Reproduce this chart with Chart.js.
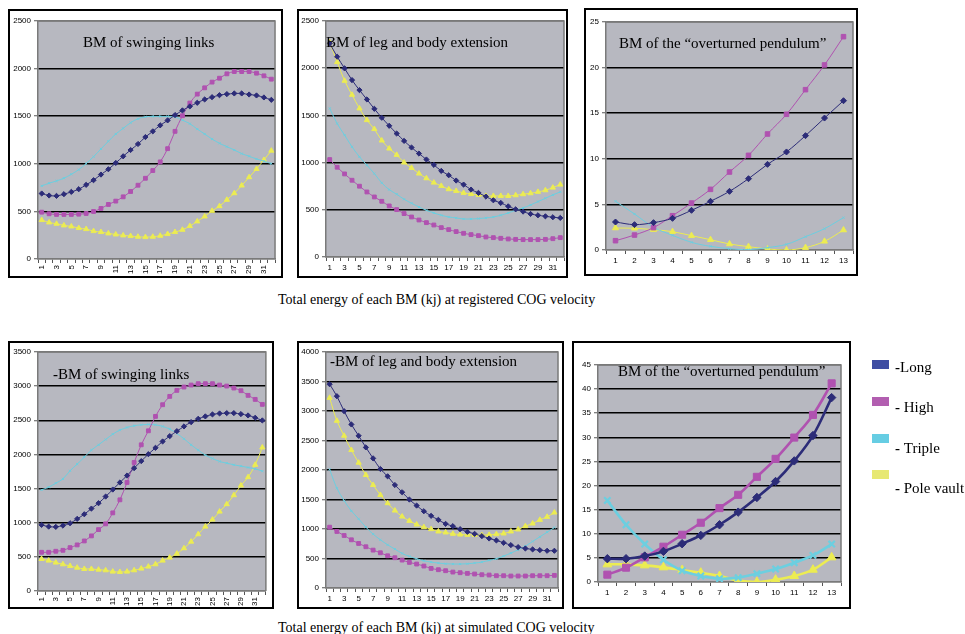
<!DOCTYPE html>
<html><head><meta charset="utf-8">
<script src="https://cdn.jsdelivr.net/npm/chart.js@4"></script>
<style>
html,body{margin:0;padding:0;}
body{width:965px;height:634px;background:#fff;position:relative;overflow:hidden;font-family:"Liberation Serif","Times New Roman",serif;color:#000;}
.frame{position:absolute;border:2px solid #000;box-sizing:border-box;pointer-events:none;}
canvas{position:absolute;}
.t{position:absolute;font-size:15px;white-space:nowrap;line-height:16px;}
.cap{position:absolute;font-size:14px;white-space:nowrap;line-height:16px;}
.sw{position:absolute;width:17px;height:9px;}
.lt{position:absolute;font-size:15px;white-space:nowrap;line-height:16px;}
b.d{font-weight:900;}
</style>
</head><body>
<script>
// ---------- DATA ----------
const cats32 = [1,2,3,4,5,6,7,8,9,10,11,12,13,14,15,16,17,18,19,20,21,22,23,24,25,26,27,28,29,30,31,32];
const cats13 = [1,2,3,4,5,6,7,8,9,10,11,12,13];
const seriesNames = ['Long','High','Triple','Pole vault'];

// registered COG velocity
const regSwingLong   = [688,667,663,681,705,733,779,828,887,943,1009,1079,1145,1208,1281,1341,1404,1456,1512,1561,1603,1641,1676,1700,1721,1732,1739,1739,1728,1718,1697,1672];
const regSwingHigh   = [492,475,468,468,468,471,478,499,531,573,608,653,709,775,848,929,1020,1159,1341,1505,1638,1732,1798,1858,1899,1945,1969,1969,1969,1952,1924,1889];
const regSwingTriple = [768,796,820,849,890,939,1002,1075,1156,1236,1313,1372,1432,1473,1494,1498,1498,1498,1494,1459,1421,1365,1313,1260,1215,1180,1145,1107,1079,1051,1027,1002];
const regSwingPole   = [409,384,370,353,342,325,314,293,283,269,258,248,241,234,230,234,244,262,283,307,346,395,447,506,555,622,691,772,859,946,1041,1138];

const regLegLong   = [2263,2122,1998,1874,1768,1669,1570,1475,1390,1308,1230,1160,1096,1033,976,912,866,810,767,714,679,640,601,573,537,505,481,456,442,431,421,414];
const regLegHigh   = [1032,951,880,813,750,689,636,590,541,502,460,424,392,364,339,311,290,269,251,237,226,212,205,198,191,187,184,184,184,187,194,205];
const regLegTriple = [1574,1414,1291,1167,1061,972,884,785,714,665,612,569,530,495,467,442,424,414,403,403,407,414,424,442,467,495,520,551,587,622,658,690];
const regLegPole   = [2274,2065,1867,1718,1574,1450,1355,1234,1149,1082,1001,944,884,834,788,753,718,700,679,668,658,647,647,647,647,654,665,675,690,707,735,767];

const regPendLong   = [3.07,2.78,3.0,3.47,4.35,5.34,6.43,7.82,9.39,10.75,12.54,14.47,16.37];
const regPendHigh   = [1.02,1.64,2.45,3.76,5.15,6.65,8.55,10.38,12.72,14.88,17.58,20.29,23.39];
const regPendTriple = [5.34,3.95,2.49,1.61,0.84,0.40,0.15,0.04,0.26,0.62,1.46,2.34,3.55];
const regPendPole   = [2.41,2.38,2.23,2.01,1.57,1.13,0.66,0.37,0.11,0.0,0.26,0.95,2.19];

// simulated COG velocity
const simSwingLong   = [968,943,939,958,992,1056,1124,1207,1286,1383,1486,1589,1691,1799,1902,2004,2097,2190,2268,2341,2410,2473,2522,2557,2586,2600,2605,2605,2591,2571,2537,2498];
const simSwingHigh   = [567,567,582,596,635,675,733,807,899,983,1144,1335,1589,1882,2141,2346,2557,2728,2850,2938,2987,3016,3036,3036,3036,3016,3001,2972,2933,2865,2806,2733];
const simSwingTriple = [1481,1520,1579,1642,1760,1858,1960,2063,2141,2219,2297,2356,2395,2420,2434,2439,2434,2410,2371,2307,2229,2141,2063,1990,1941,1897,1872,1848,1828,1809,1789,1755];
const simSwingPole   = [469,445,416,391,367,342,323,323,313,303,284,279,284,303,328,357,391,445,489,547,626,723,831,943,1046,1163,1271,1403,1545,1667,1848,2102];

const simLegLong   = [3454,3251,2997,2772,2580,2383,2197,2017,1893,1746,1623,1499,1397,1301,1223,1155,1087,1048,997,952,918,879,839,806,766,727,693,670,654,642,631,631];
const simLegHigh   = [1031,958,890,817,755,699,642,597,546,513,473,434,406,372,332,310,293,270,259,248,237,225,220,208,208,203,203,203,208,208,208,214];
const simLegTriple = [2011,1690,1482,1307,1172,1031,913,817,732,659,586,535,496,462,439,423,411,406,406,411,423,439,468,496,541,592,648,710,789,868,946,1025];
const simLegPole   = [3223,2834,2580,2338,2124,1915,1746,1577,1437,1313,1211,1138,1076,1031,997,958,941,918,907,901,901,896,901,913,924,958,992,1048,1093,1155,1206,1279];

const simPendLong   = [4.83,4.83,5.38,6.35,7.94,9.66,11.87,14.49,17.53,20.84,25.12,30.37,38.24];
const simPendHigh   = [1.52,2.97,5.11,7.32,9.80,12.29,15.32,18.08,21.81,25.54,29.95,34.65,41.20];
const simPendTriple = [16.91,11.87,7.87,4.62,2.35,1.24,0.69,0.90,1.73,2.69,4.00,5.52,7.87];
const simPendPole   = [3.66,3.66,3.45,3.04,2.48,1.93,1.24,0.28,0.0,0.48,1.24,2.55,5.11];

const panelTitles = ['BM of swinging links','BM of leg and body extension','BM of the \u201coverturned pendulum\u201d'];
const captions = ['Total energy of each BM (kj) at registered COG velocity','Total energy of each BM (kj) at simulated COG velocity'];

// ---------- STYLE ----------
const COLORS = ['#2c2c78','#b052b0','#6ccfe0','#ecec52'];
const LEGEND_COLORS = ['#3f4ea3','#b25eb0','#66cde3','#e7e873'];
const STYLES = ['rectRot','rect','crossRot','triangle'];
const PLOT_BG = '#b7b8c0';

const bgPlugin = {
  id:'plotbg',
  beforeDraw(c){
    const a=c.chartArea, x=c.ctx;
    x.save(); x.fillStyle=PLOT_BG; x.fillRect(a.left,a.top,a.right-a.left,a.bottom-a.top); x.restore();
  },
  beforeDatasetsDraw(c){
    const a=c.chartArea, x=c.ctx;
    x.save(); x.strokeStyle='#7a7a7a'; x.lineWidth=1.5;
    x.beginPath(); x.moveTo(a.left,a.top); x.lineTo(a.right,a.top); x.lineTo(a.right,a.bottom); x.stroke();
    x.restore();
  }
};

function el(tag, cls, css, html){
  const e=document.createElement(tag); if(cls) e.className=cls;
  Object.assign(e.style, css); if(html!==undefined) e.innerHTML=html;
  document.body.appendChild(e); return e;
}

// frame: [x,y,w,h]; plot: [left,top,right,bottom] in page coords
function makePanel(frame, plot, labels, data, yMax, step, cfg){
  const [fx,fy,fw,fh]=frame, [pl,pt,pr,pb]=plot;
  const cv=el('canvas','',{left:fx+'px',top:fy+'px',width:fw+'px',height:fh+'px'});
  cv.width=fw; cv.height=fh;
  el('div','frame',{left:fx+'px',top:fy+'px',width:fw+'px',height:fh+'px'});
  const L=pl-fx, T=pt-fy, R=pr-fx, B=pb-fy;
  const datasets=data.map((d,i)=>({
    label:seriesNames[i], data:d,
    borderColor:COLORS[i], backgroundColor:COLORS[i],
    pointBackgroundColor:COLORS[i], pointBorderColor:COLORS[i],
    pointStyle:STYLES[i], pointRadius:cfg.radii[i], pointBorderWidth:i===2?cfg.crossW:1,
    borderWidth:cfg.lw, tension:0.35, fill:false
  }));
  return new Chart(cv,{
    type:'line',
    data:{labels:labels, datasets:datasets},
    options:{
      responsive:false, animation:false, devicePixelRatio:1,
      layout:{autoPadding:false, padding:{left:0,top:T,right:fw-R,bottom:0}},
      plugins:{legend:{display:false}, tooltip:{enabled:false}, title:{display:false}},
      scales:{
        x:{
          type:'category', offset:true,
          grid:{display:true, drawOnChartArea:false, offset:true, tickLength:4, color:'#555', lineWidth:1},
          border:{color:'#7a7a7a', width:1.5},
          ticks:{autoSkip:false, maxRotation:cfg.rot, minRotation:cfg.rot, padding:2, color:'#000',
            font:{family:'Liberation Sans, Arial, sans-serif', size:8},
            callback:function(v,i){ return (cfg.every2 && i%2===1) ? '' : this.getLabelForValue(v); }},
          afterFit:(s)=>{ s.height = fh - B; }
        },
        y:{
          min:0, max:yMax,
          grid:{color:(ctx)=> (ctx.tick && (ctx.tick.value===0 || ctx.tick.value===yMax)) ? '#7a7a7a' : '#000',
                lineWidth:1.5, tickLength:4, tickColor:'#555', tickWidth:1},
          border:{color:'#7a7a7a', width:1.5},
          ticks:{stepSize:step, padding:3, color:'#000', font:{family:'Liberation Sans, Arial, sans-serif', size:8},
            callback:(v)=>String(v)},
          afterFit:(s)=>{ s.width = L; }
        }
      }
    },
    plugins:[bgPlugin]
  });
}

const small = {lw:1, radii:[2.6,2.7,1.5,3], crossW:1, rot:0, every2:true};

makePanel([8,9,275,269],[38,21,278,259],cats32,[regSwingLong,regSwingHigh,regSwingTriple,regSwingPole],2500,500,Object.assign({},small,{rot:90}));
makePanel([297,9,271,269],[326,21,564,257],cats32,[regLegLong,regLegHigh,regLegTriple,regLegPole],2500,500,small);
makePanel([584,8,274,268],[606,22,853,250],cats13,[regPendLong,regPendHigh,regPendTriple,regPendPole],25,5,Object.assign({},small,{radii:[3,3.2,1.5,3.5],every2:false}));
makePanel([8,341,266,268],[38,352,269,591],cats32,[simSwingLong,simSwingHigh,simSwingTriple,simSwingPole],3500,500,Object.assign({},small,{rot:90}));
makePanel([297,341,267,268],[326,352,558,588],cats32,[simLegLong,simLegHigh,simLegTriple,simLegPole],4000,500,small);
makePanel([572,341,279,268],[598,365,841,582],cats13,[simPendLong,simPendHigh,simPendTriple,simPendPole],45,5,{lw:2.6, radii:[4.2,5,4.5,5], crossW:2.2, rot:0, every2:false});

// ---------- TEXT ----------
el('div','t',{left:'83px',top:'34px'},panelTitles[0]);
el('div','t',{left:'326px',top:'34px'},panelTitles[1]);
el('div','t',{left:'619px',top:'35px'},panelTitles[2]);
el('div','t',{left:'53px',top:'366px'},'<b class="d">-</b>'+panelTitles[0]);
el('div','t',{left:'330px',top:'353px'},'<b class="d">-</b>'+panelTitles[1]);
el('div','t',{left:'618px',top:'363px'},panelTitles[2]);
el('div','cap',{left:'278px',top:'292px'},captions[0]);
el('div','cap',{left:'278px',top:'620px'},captions[1]);

// legend
const swTop=[360,397,434,470], txTop=[359,399,440,480], txPre=['-','- ','- ','- '];
seriesNames.forEach((n,i)=>{
  el('div','sw',{left:'872px',top:swTop[i]+'px',background:LEGEND_COLORS[i]});
  el('div','lt',{left:'895px',top:txTop[i]+'px'},'<b class="d">'+txPre[i].trim()+'</b>'+(txPre[i].length>1?'&nbsp;':'')+n);
});
</script>
</body></html>
